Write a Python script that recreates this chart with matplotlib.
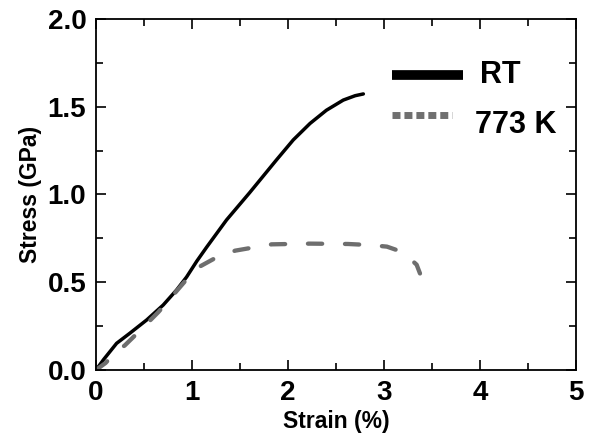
import numpy as np
import matplotlib
matplotlib.use('Agg')
from matplotlib import pyplot as plt
from matplotlib.ticker import MultipleLocator

# stress-strain data
strain_rt = [0.0, 0.08, 0.215, 0.354, 0.528, 0.70, 0.84, 0.944, 1.05, 1.153, 1.36,
             1.60, 1.88, 2.055, 2.23, 2.40, 2.576, 2.70, 2.785]
stress_rt = [0.0, 0.06, 0.152, 0.21, 0.285, 0.37, 0.456, 0.53, 0.62, 0.70, 0.855,
             1.01, 1.197, 1.311, 1.405, 1.48, 1.538, 1.563, 1.573]

strain_hot = [0.0, 0.1, 0.2, 0.3, 0.45, 0.65, 0.84, 0.95, 1.08, 1.25, 1.45, 1.83,
              2.23, 2.625, 2.85, 3.03, 3.13, 3.25, 3.34, 3.375]
stress_hot = [0.0, 0.04, 0.10, 0.14, 0.22, 0.33, 0.45, 0.52, 0.589, 0.64, 0.68, 0.716,
              0.72, 0.718, 0.712, 0.703, 0.684, 0.645, 0.60, 0.55]

labels = ['RT', '773 K']

plt.rcParams['font.family'] = ['Liberation Sans', 'DejaVu Sans']
plt.rcParams['font.weight'] = 'bold'

fig = plt.figure(figsize=(5.98, 4.44), dpi=100)
ax = fig.add_axes([0.1605, 0.1667, 0.8027, 0.7905])

ax.plot(strain_rt, stress_rt, '-', color='black', lw=2.5, solid_capstyle='round')
ax.plot(strain_hot, stress_hot, '--', color='#6e6e6e', lw=3.1, dashes=(3.3, 5.3),
        dash_capstyle='round')

ax.set_xlim(0, 5)
ax.set_ylim(0, 2.0)
ax.xaxis.set_major_locator(MultipleLocator(1))
ax.xaxis.set_minor_locator(MultipleLocator(0.5))
ax.yaxis.set_major_locator(MultipleLocator(0.5))
ax.yaxis.set_minor_locator(MultipleLocator(0.25))
ax.yaxis.set_major_formatter(plt.FormatStrFormatter('%.1f'))

ax.tick_params(which='both', direction='in', top=True, right=True, width=1.2)
ax.tick_params(which='major', length=7, labelsize=20, pad=7)
ax.tick_params(which='minor', length=5)
for sp in ax.spines.values():
    sp.set_linewidth(1.3)

ax.set_xlabel('Strain (%)', fontsize=16.5, fontweight='bold', labelpad=3)
ax.set_ylabel('Stress (GPa)', fontsize=16.5, fontweight='bold', labelpad=4)

# hand-placed key, like the original
tr = ax.transAxes
ax.plot([0.616, 0.765], [0.840, 0.840], transform=tr, color='black', lw=7,
        solid_capstyle='butt')
ax.plot([0.616, 0.742], [0.726, 0.726], transform=tr, color='#707070', lw=5,
        dashes=(1.15, 0.57), dash_capstyle='butt')
ax.text(0.80, 0.817, labels[0], transform=tr, fontsize=22, va='baseline')
ax.text(0.79, 0.674, labels[1], transform=tr, fontsize=22, va='baseline')

plt.savefig('out.png', dpi=100)
